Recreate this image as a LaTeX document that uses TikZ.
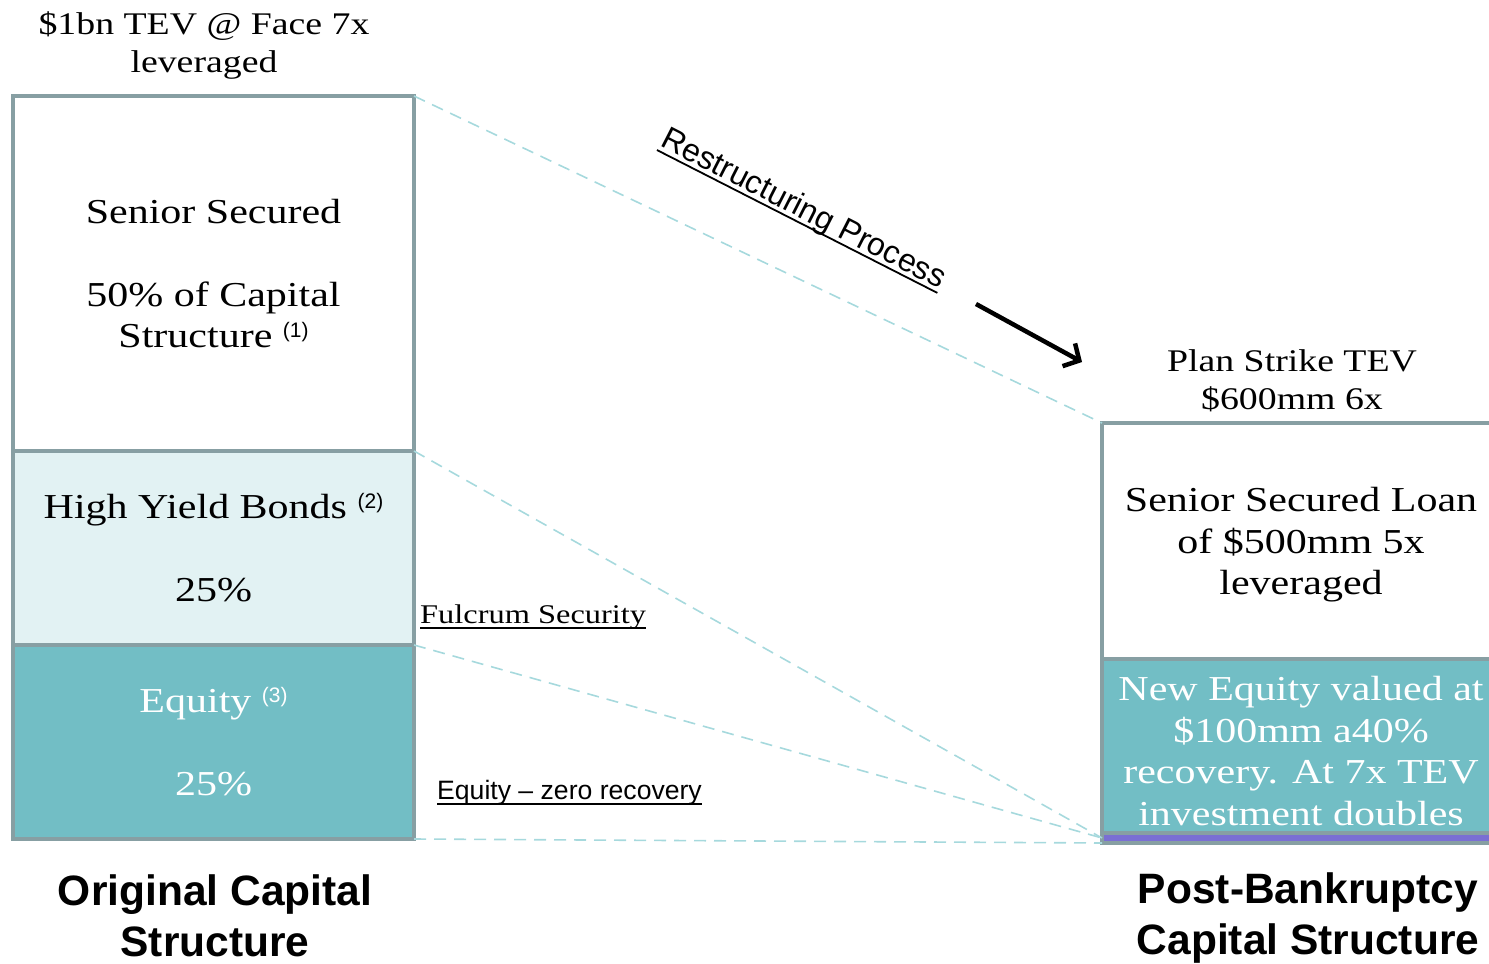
\documentclass[tikz,border=0pt]{standalone}
\usepackage{fontspec}
\setmainfont[FakeStretch=1.2]{Liberation Serif}
\newfontfamily\arialfont{Liberation Sans}
\usetikzlibrary{arrows.meta}

\definecolor{edgegray}{HTML}{879FA3}
\definecolor{paleteal}{HTML}{E2F2F3}
\definecolor{midteal}{HTML}{72BEC5}
\definecolor{guideteal}{HTML}{A6D9DD}
\definecolor{lineviolet}{HTML}{7A6FD3}

\newcommand\bodyfont{\fontsize{35}{41.5}\selectfont}
\newcommand\headfont{\fontsize{31.5}{38}\selectfont}
\newcommand\titlefont{\arialfont\bfseries\fontsize{42.5}{51}\selectfont}
\newcommand\fnote[1]{\raisebox{10pt}{\arialfont\fontsize{21}{21}\selectfont(#1)}}
% underline at a fixed depth below the baseline
\newlength\ulwd
\newcommand\uln[1]{\settowidth{\ulwd}{#1}\rlap{\rule[-5.5pt]{\ulwd}{1.8pt}}#1}

\begin{document}
\begin{tikzpicture}[x=1pt,y=-1pt,
  tier/.style={draw=edgegray, line width=4pt, inner sep=0pt, outer sep=0pt,
    anchor=north west, align=center, font=\bodyfont},
  boxtext/.style={align=center, inner sep=0pt, font=\bodyfont},
  guide/.style={draw=guideteal, line width=1.6pt, dash pattern=on 12pt off 8pt},
  caption/.style={align=center, inner sep=0pt, font=\headfont},
  title/.style={align=center, inner sep=0pt, font=\titlefont}]

\useasboundingbox (0,0) rectangle (1489,964);

% original capital structure
\node[tier, fill=white, minimum width=401pt, minimum height=355pt] (ss) at (13,96)
  {Senior Secured\\[41.5pt]50\% of Capital\\Structure \fnote{1}};
\node[tier, fill=paleteal, minimum width=401pt, minimum height=194pt] (hy) at (13,451)
  {High Yield Bonds \fnote{2}\\[41.5pt]25\%};
\node[tier, fill=midteal, text=white, minimum width=401pt, minimum height=194pt] (eq) at (13,645)
  {Equity \fnote{3}\\[41.5pt]25\%};

% post-bankruptcy capital structure
\node[tier, fill=white, minimum width=398pt, minimum height=236pt] (sl) at (1102,423) {};
\node[tier, fill=midteal, minimum width=398pt, minimum height=174pt] (ne) at (1102,659) {};
\node[tier, fill=lineviolet, minimum width=398pt, minimum height=10pt] (strip) at (1102,833) {};
\node[boxtext] (sltext) at ([yshift=-4pt]sl.center)
  {Senior Secured Loan\\of \$500mm 5x\\leveraged};
\node[boxtext, text=white] (netext) at ([yshift=-5pt]ne.center)
  {New Equity valued at\\\$100mm a40\%\\recovery. At 7x TEV\\investment doubles};

% guide lines between the two structures
\draw[guide] (ss.north east) -- (sl.north west);
\draw[guide] (hy.north east) -- (strip.west);
\draw[guide] (eq.north east) -- (strip.west);
\draw[guide] (eq.south east) -- (strip.south west);

% captions
\node[caption] (tevold) at (204,45) {\$1bn TEV @ Face 7x\\leveraged};
\node[caption] (tevnew) at (1292,381) {Plan Strike TEV\\\$600mm 6x};

\node[anchor=base west, inner sep=0pt, font=\fontsize{27}{27}\selectfont] (fulcrum) at (420,623)
  {\uln{Fulcrum Security}};
\node[anchor=base west, inner sep=0pt, font=\arialfont\fontsize{26.6}{27}\selectfont] (zero) at (437,799)
  {\uln{Equity – zero recovery}};

\node[rotate=-27, inner sep=0pt, font=\arialfont\fontsize{32}{32}\selectfont] (proc) at (803,210)
  {\uln{Restructuring Process}};

\coordinate (arrowtail) at (976,304);
\coordinate (arrowhead) at (1082,362);
\draw[line width=4.5pt, -{Straight Barb[length=12pt,width=26pt]}] (arrowtail) -- (arrowhead);

% titles
\node[title] (oldtitle) at (215,916) {Original Capital\\Structure};
\node[title] (newtitle) at (1308,918) {Post-Bankruptcy\\Capital Structure};

\end{tikzpicture}
\end{document}
